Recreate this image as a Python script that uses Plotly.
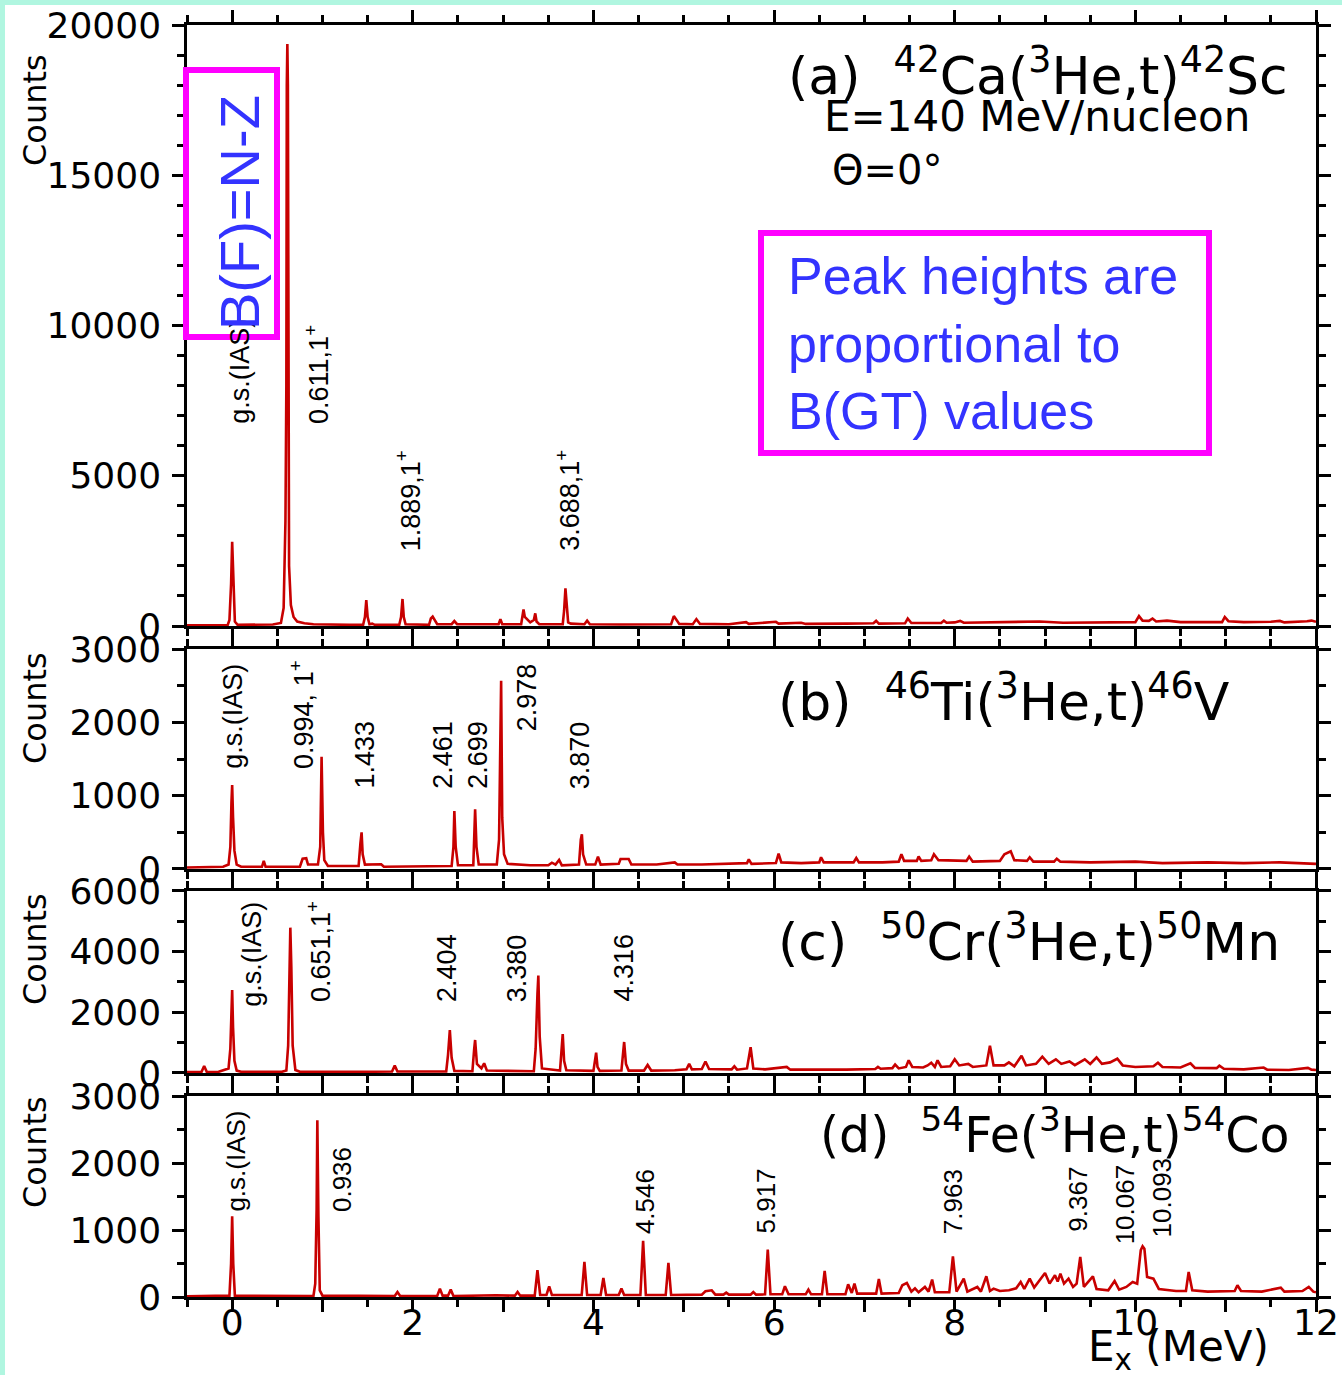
import plotly.graph_objects as go

# ---------------- data ----------------
# (a) 42Ca(3He,t)42Sc  : (Ex [MeV], counts)
SPEC_A = [(-0.5, 20), (-0.2, 20), (-0.05, 30), (-0.03, 200), (-0.012, 1400), (0.0, 2800), (0.012, 1400),
          (0.03, 150), (0.06, 40), (0.3, 40), (0.45, 50), (0.54, 100), (0.57, 600), (0.59, 3500),
          (0.60, 8000), (0.605, 18000), (0.611, 19370), (0.617, 18000), (0.622, 6000), (0.63, 2000),
          (0.65, 700), (0.68, 300), (0.72, 150), (0.8, 90), (0.9, 60), (1.0, 50), (1.3, 40), (1.45, 40),
          (1.47, 300), (1.485, 865), (1.50, 300), (1.52, 60), (1.55, 80), (1.58, 40), (1.85, 40),
          (1.87, 300), (1.886, 900), (1.90, 300), (1.92, 60), (2.18, 40), (2.2, 250), (2.22, 310),
          (2.24, 200), (2.27, 60), (2.43, 60), (2.46, 165), (2.49, 60), (2.95, 60), (2.97, 230),
          (2.99, 60), (3.2, 60), (3.215, 400), (3.226, 555), (3.24, 300), (3.3, 120), (3.34, 200),
          (3.356, 420), (3.37, 150), (3.4, 60), (3.66, 60), (3.675, 500), (3.69, 1255), (3.705, 500),
          (3.72, 120), (3.75, 80), (3.9, 60), (3.93, 180), (3.96, 60), (4.3, 50), (4.6, 60), (4.86, 60),
          (4.89, 330), (4.92, 180), (4.95, 70), (5.1, 60), (5.14, 230), (5.18, 70), (5.5, 60),
          (5.69, 130), (5.72, 70), (6.02, 140), (6.05, 80), (6.3, 110), (6.35, 70), (6.8, 80),
          (7.1, 90), (7.13, 170), (7.16, 80), (7.45, 90), (7.48, 250), (7.52, 100), (7.85, 100),
          (7.88, 180), (7.91, 110), (8.0, 120), (8.06, 170), (8.1, 110), (8.5, 120), (8.94, 150),
          (9.2, 110), (9.6, 120), (10.0, 130), (10.04, 330), (10.08, 180), (10.15, 170), (10.19, 250),
          (10.23, 150), (10.35, 180), (10.5, 130), (10.96, 130), (10.99, 300), (11.03, 160),
          (11.2, 130), (11.5, 140), (11.6, 170), (11.65, 120), (11.9, 160), (11.95, 180), (12.0, 140)]

# (b) 46Ti(3He,t)46V
SPEC_B = [(-0.5, 20), (-0.3, 25), (-0.1, 30), (-0.04, 60), (-0.02, 300), (-0.008, 900), (0.0, 1146),
          (0.01, 700), (0.025, 250), (0.05, 60), (0.1, 30), (0.33, 30), (0.35, 109), (0.37, 30),
          (0.75, 30), (0.78, 140), (0.82, 146), (0.84, 60), (0.95, 60), (0.975, 300), (0.99, 1532),
          (1.005, 500), (1.02, 120), (1.06, 40), (1.4, 40), (1.42, 350), (1.433, 500), (1.445, 200),
          (1.47, 60), (1.65, 64), (1.68, 30), (2.43, 40), (2.45, 300), (2.46, 791), (2.475, 300),
          (2.5, 50), (2.67, 50), (2.69, 814), (2.705, 300), (2.73, 60), (2.93, 60), (2.955, 400),
          (2.97, 1900), (2.978, 2569), (2.99, 700), (3.01, 200), (3.05, 70), (3.3, 50), (3.5, 50),
          (3.54, 86), (3.58, 60), (3.62, 123), (3.65, 50), (3.84, 60), (3.86, 400), (3.872, 473),
          (3.885, 200), (3.92, 60), (4.02, 60), (4.05, 168), (4.08, 60), (4.28, 70), (4.3, 136),
          (4.39, 136), (4.42, 60), (4.7, 60), (4.9, 90), (4.93, 60), (5.2, 60), (5.5, 70), (5.7, 80),
          (5.72, 130), (5.75, 70), (6.02, 80), (6.05, 210), (6.08, 90), (6.3, 80), (6.5, 90),
          (6.52, 160), (6.55, 90), (6.88, 90), (6.91, 150), (6.94, 90), (7.2, 90), (7.38, 100),
          (7.41, 200), (7.44, 110), (7.58, 110), (7.6, 170), (7.63, 110), (7.74, 120), (7.77, 200),
          (7.82, 120), (8.13, 110), (8.16, 170), (8.2, 100), (8.5, 110), (8.55, 200), (8.62, 240),
          (8.66, 120), (8.8, 110), (8.83, 160), (8.87, 100), (9.1, 100), (9.13, 140), (9.17, 100),
          (9.5, 90), (10.0, 100), (10.3, 80), (10.8, 90), (11.2, 80), (11.6, 90), (12.0, 70)]

# (c) 50Cr(3He,t)50Mn
SPEC_C = [(-0.5, 30), (-0.34, 30), (-0.31, 231), (-0.28, 30), (-0.15, 40), (-0.09, 100), (-0.04, 150),
          (-0.02, 800), (-0.008, 2300), (0.0, 2736), (0.01, 1500), (0.025, 400), (0.05, 80), (0.1, 40),
          (0.55, 40), (0.6, 80), (0.62, 900), (0.635, 3500), (0.644, 4791), (0.655, 3500), (0.67, 900),
          (0.7, 100), (0.75, 40), (1.5, 40), (1.77, 50), (1.8, 242), (1.83, 50), (2.37, 50), (2.39, 600),
          (2.41, 1418), (2.43, 500), (2.46, 70), (2.66, 60), (2.68, 800), (2.69, 1088), (2.71, 300),
          (2.76, 150), (2.79, 319), (2.82, 80), (3.34, 60), (3.36, 800), (3.38, 2600), (3.39, 3209),
          (3.405, 1200), (3.43, 150), (3.63, 80), (3.65, 900), (3.66, 1286), (3.675, 400), (3.7, 90),
          (4.0, 70), (4.02, 500), (4.03, 670), (4.045, 200), (4.07, 70), (4.31, 80), (4.33, 700),
          (4.34, 1022), (4.36, 300), (4.39, 80), (4.56, 80), (4.6, 264), (4.64, 80), (4.9, 90),
          (5.03, 120), (5.06, 300), (5.09, 120), (5.2, 130), (5.24, 380), (5.28, 130), (5.53, 120),
          (5.56, 220), (5.59, 110), (5.70, 150), (5.74, 850), (5.77, 150), (5.9, 120), (6.14, 200),
          (6.18, 110), (6.5, 100), (6.8, 110), (7.12, 130), (7.15, 200), (7.18, 140), (7.31, 160),
          (7.34, 280), (7.38, 150), (7.46, 200), (7.49, 420), (7.53, 200), (7.65, 180), (7.7, 250),
          (7.74, 340), (7.78, 200), (7.81, 420), (7.85, 200), (7.95, 220), (8.0, 450), (8.05, 250),
          (8.15, 300), (8.2, 200), (8.35, 250), (8.39, 900), (8.43, 250), (8.55, 250), (8.6, 350),
          (8.66, 220), (8.74, 570), (8.79, 250), (8.9, 300), (8.97, 540), (9.04, 300), (9.12, 450),
          (9.18, 300), (9.27, 380), (9.33, 260), (9.44, 450), (9.5, 300), (9.57, 510), (9.63, 300),
          (9.72, 350), (9.8, 470), (9.86, 250), (10.0, 200), (10.2, 220), (10.25, 340), (10.3, 200),
          (10.5, 180), (10.61, 320), (10.66, 170), (10.9, 160), (10.93, 240), (10.98, 140),
          (11.2, 120), (11.42, 180), (11.46, 110), (11.7, 100), (11.91, 170), (11.95, 110), (12.0, 100)]

# (d) 54Fe(3He,t)54Co
SPEC_D = [(-0.5, 10), (-0.1, 10), (-0.03, 20), (-0.012, 500), (0.0, 1205), (0.012, 500), (0.03, 20),
          (0.9, 15), (0.92, 200), (0.935, 1300), (0.943, 2640), (0.955, 1200), (0.97, 100), (1.0, 20),
          (1.45, 15), (1.46, 25), (1.8, 15), (1.83, 75), (1.86, 15), (2.27, 15), (2.3, 125), (2.33, 20),
          (2.39, 20), (2.42, 110), (2.45, 15), (2.92, 25), (3.13, 20), (3.16, 75), (3.19, 20),
          (3.35, 20), (3.38, 400), (3.41, 30), (3.48, 30), (3.51, 160), (3.54, 30), (3.87, 30),
          (3.9, 523), (3.93, 30), (4.08, 30), (4.11, 284), (4.14, 30), (4.28, 30), (4.31, 125),
          (4.34, 30), (4.52, 30), (4.55, 837), (4.58, 30), (4.8, 30), (4.83, 508), (4.86, 30),
          (5.2, 35), (5.24, 85), (5.31, 100), (5.35, 35), (5.44, 35), (5.47, 65), (5.5, 35), (5.74, 35),
          (5.77, 75), (5.8, 35), (5.9, 40), (5.93, 707), (5.96, 40), (6.09, 40), (6.12, 160),
          (6.16, 40), (6.35, 40), (6.38, 110), (6.41, 40), (6.53, 40), (6.56, 388), (6.59, 40),
          (6.79, 40), (6.82, 190), (6.86, 60), (6.89, 200), (6.92, 50), (7.13, 50), (7.16, 270),
          (7.19, 50), (7.38, 60), (7.42, 175), (7.47, 210), (7.52, 80), (7.56, 130), (7.6, 70),
          (7.67, 150), (7.71, 80), (7.75, 260), (7.78, 70), (7.94, 70), (7.98, 608), (8.02, 80),
          (8.1, 274), (8.14, 80), (8.25, 150), (8.29, 80), (8.35, 309), (8.39, 90), (8.43, 125),
          (8.5, 90), (8.6, 100), (8.68, 130), (8.73, 224), (8.77, 120), (8.83, 274), (8.88, 140),
          (9.0, 358), (9.05, 200), (9.11, 324), (9.14, 230), (9.17, 349), (9.21, 200), (9.26, 274),
          (9.31, 150), (9.35, 200), (9.39, 598), (9.43, 150), (9.53, 309), (9.57, 120), (9.7, 100),
          (9.77, 239), (9.82, 110), (9.9, 150), (9.97, 224), (10.02, 200), (10.06, 700), (10.08, 757),
          (10.1, 720), (10.13, 300), (10.2, 274), (10.26, 120), (10.4, 100), (10.45, 90), (10.56, 90),
          (10.59, 374), (10.63, 100), (10.8, 80), (11.1, 90), (11.13, 175), (11.17, 90), (11.4, 80),
          (11.61, 140), (11.65, 80), (11.85, 90), (11.92, 150), (11.97, 80), (12.0, 70)]

# peak labels per panel
LABELS_A = ["g.s.(IAS)", "0.611,1<sup>+</sup>", "1.889,1<sup>+</sup>", "3.688,1<sup>+</sup>"]
LABELS_B = ["g.s.(IAS)", "0.994, 1<sup>+</sup>", "1.433", "2.461", "2.699", "2.978", "3.870"]
LABELS_C = ["g.s.(IAS)", "0.651,1<sup>+</sup>", "2.404", "3.380", "4.316"]
LABELS_D = ["g.s.(IAS)", "0.936", "4.546", "5.917", "7.963", "9.367", "10.067", "10.093"]

TITLES = ["(a)  <sup>42</sup>Ca(<sup>3</sup>He,t)<sup>42</sup>Sc",
          "(b)  <sup>46</sup>Ti(<sup>3</sup>He,t)<sup>46</sup>V",
          "(c)  <sup>50</sup>Cr(<sup>3</sup>He,t)<sup>50</sup>Mn",
          "(d)  <sup>54</sup>Fe(<sup>3</sup>He,t)<sup>54</sup>Co"]

X_TICKS = list(range(0, 13))
X_TICKTEXT = ["0", "", "2", "", "4", "", "6", "", "8", "", "10", "", "12"]
Y_MAX = [20000, 3000, 6000, 3000]
Y_DTICK = [5000, 1000, 2000, 1000]
Y_MINOR = [1000, 500, 1000, 500]

# ---------------- placement / style ----------------
W, H = 1342, 1375
ML, MR, MT, MB = 187, 26, 25, 78
PW, PH = W - ML - MR, H - MT - MB


def px2paper(px, py):
    return (px - ML) / PW, (H - MB - py) / PH


DOMAINS = [[0.5275, 1.0], [0.3365, 0.5094], [0.1761, 0.3192], [0.0, 0.158]]
RED = "#c80000"
TICKFONT = dict(family="DejaVu Sans", size=36, color="black")
LABFONT = dict(family="Liberation Sans, Arial", size=27, color="black")
LABFONT_D = dict(family="Liberation Sans, Arial", size=26, color="black")

# label placement: (x in MeV, y-bottom in counts)
LABPOS_A = [(0.078, 6689), (0.933, 6689), (1.944, 2463), (3.71, 2463)]
LABPOS_B = [(0.0, 1350), (0.767, 1350), (1.467, 1078), (2.333, 1078), (2.72, 1078), (3.267, 1869), (3.856, 1078)]
LABPOS_C = [(0.222, 2143), (0.967, 2308), (2.378, 2308), (3.156, 2308), (4.333, 2308)]
LABPOS_D = [(0.044, 1254), (1.222, 1254), (4.578, 926), (5.911, 926), (7.989, 926), (9.356, 955),
            (9.889, 776), (10.3, 881)]

fig = go.Figure()
specs = [SPEC_A, SPEC_B, SPEC_C, SPEC_D]
for i, spec in enumerate(specs):
    sfx = "" if i == 0 else str(i + 1)
    fig.add_trace(go.Scatter(x=[p[0] for p in spec], y=[p[1] for p in spec], mode="lines",
                             line=dict(color=RED, width=2.6), xaxis="x" + sfx, yaxis="y" + sfx,
                             showlegend=False, hoverinfo="skip"))

axis_common = dict(showline=True, linecolor="black", linewidth=2.5, mirror="ticks", ticks="outside",
                   tickwidth=2.5, tickcolor="black", showgrid=False, zeroline=False, tickfont=TICKFONT,
                   automargin=False)
layout = dict(width=W, height=H, margin=dict(l=ML, r=MR, t=MT, b=MB, autoexpand=False),
              paper_bgcolor="white", plot_bgcolor="white", showlegend=False)
for i in range(4):
    sfx = "" if i == 0 else str(i + 1)
    layout["xaxis" + sfx] = dict(axis_common, range=[-0.5, 12], anchor="y" + sfx,
                                 tickmode="array", tickvals=X_TICKS, ticktext=X_TICKTEXT, ticklen=12,
                                 showticklabels=(i == 3), ticklabelstandoff=-20,
                                 minor=dict(dtick=0.5, tick0=0, ticklen=7, tickwidth=2.5, ticks="outside",
                                            tickcolor="black"),
                                 **({} if i == 0 else {"matches": "x"}))
    layout["yaxis" + sfx] = dict(axis_common, range=[0, Y_MAX[i]], domain=DOMAINS[i], anchor="x" + sfx,
                                 tickmode="linear", tick0=0, dtick=Y_DTICK[i], ticklen=12,
                                 tickformat="d", ticklabelstandoff=4,
                                 minor=dict(dtick=Y_MINOR[i], tick0=0, ticklen=7, tickwidth=2.5,
                                            ticks="outside", tickcolor="black"))
fig.update_layout(**layout)

ann = []
for i, (labs, pos) in enumerate(zip([LABELS_A, LABELS_B, LABELS_C, LABELS_D],
                                    [LABPOS_A, LABPOS_B, LABPOS_C, LABPOS_D])):
    sfx = "" if i == 0 else str(i + 1)
    for t, (xx, yy) in zip(labs, pos):
        ann.append(dict(text=t, x=xx, y=yy, xref="x" + sfx, yref="y" + sfx, showarrow=False,
                        textangle=-90, xanchor="center", yanchor="bottom", borderpad=0,
                        font=LABFONT_D if i == 3 else LABFONT))

# y axis titles "Counts"
for top in [52, 650, 891, 1094]:
    xp, yp = px2paper(35, top)
    ann.append(dict(text="Counts", x=xp, y=yp, xref="paper", yref="paper", showarrow=False,
                    textangle=-90, xanchor="center", yanchor="top",
                    font=dict(family="DejaVu Sans", size=32, color="black")))

# panel titles (right edge px, center y px, size)
TITLE_POS = [(1290, 72, 52), (1232, 698, 52), (1282, 938, 52), (1292, 1131, 49)]
for t, (rx, cy, fs) in zip(TITLES, TITLE_POS):
    xp, yp = px2paper(rx, cy)
    ann.append(dict(text=t, x=xp, y=yp, xref="paper", yref="paper", showarrow=False,
                    xanchor="right", yanchor="middle",
                    font=dict(family="DejaVu Sans", size=fs, color="black")))

xp, yp = px2paper(1252, 117)
ann.append(dict(text="E=140 MeV/nucleon", x=xp, y=yp, xref="paper", yref="paper", showarrow=False,
                xanchor="right", yanchor="middle", font=dict(family="DejaVu Sans", size=42, color="black")))
xp, yp = px2paper(830, 170)
ann.append(dict(text="\u0398=0\u00b0", x=xp, y=yp, xref="paper", yref="paper", showarrow=False,
                xanchor="left", yanchor="middle", font=dict(family="DejaVu Sans", size=40, color="black")))

# x axis title
xp, yp = px2paper(1178, 1349)
ann.append(dict(text="E<sub>x</sub> (MeV)", x=xp, y=yp, xref="paper", yref="paper", showarrow=False,
                xanchor="center", yanchor="middle", font=dict(family="DejaVu Sans", size=42, color="black")))

# blue texts in magenta boxes
BLUE = "#3333ff"
xp, yp = px2paper(240, 213)
ann.append(dict(text="B(F)=N-Z", x=xp, y=yp, xref="paper", yref="paper", showarrow=False,
                textangle=-90, xanchor="center", yanchor="middle",
                font=dict(family="Liberation Sans, Arial", size=56, color=BLUE)))
xp, yp = px2paper(786, 344)
ann.append(dict(text="Peak heights are<br>proportional to<br>B(GT) values", x=xp, y=yp,
                xref="paper", yref="paper", showarrow=False, align="left",
                xanchor="left", yanchor="middle",
                font=dict(family="Liberation Sans, Arial", size=52, color=BLUE)))

shapes = []
for (x0, y0, x1, y1) in [(186, 70, 277, 337), (761, 233, 1209, 453)]:
    a0, b0 = px2paper(x0, y1)
    a1, b1 = px2paper(x1, y0)
    shapes.append(dict(type="rect", xref="paper", yref="paper", x0=a0, y0=b0, x1=a1, y1=b1,
                       line=dict(color="#ff00ff", width=6), fillcolor="rgba(0,0,0,0)", layer="above"))
# thin mint page edge strips (left and top)
for (x0, y0, x1, y1) in [(0, 0, 5, H), (0, 0, W, 5)]:
    a0, b0 = px2paper(x0, y1)
    a1, b1 = px2paper(x1, y0)
    shapes.append(dict(type="rect", xref="paper", yref="paper", x0=a0, y0=b0, x1=a1, y1=b1,
                       line=dict(width=0), fillcolor="#b0f6e0", layer="above"))

fig.update_layout(annotations=ann, shapes=shapes)
fig.write_html("out.html", config={"displayModeBar": False},
               post_script="document.body.style.margin='0px';document.body.style.overflow='hidden';")
